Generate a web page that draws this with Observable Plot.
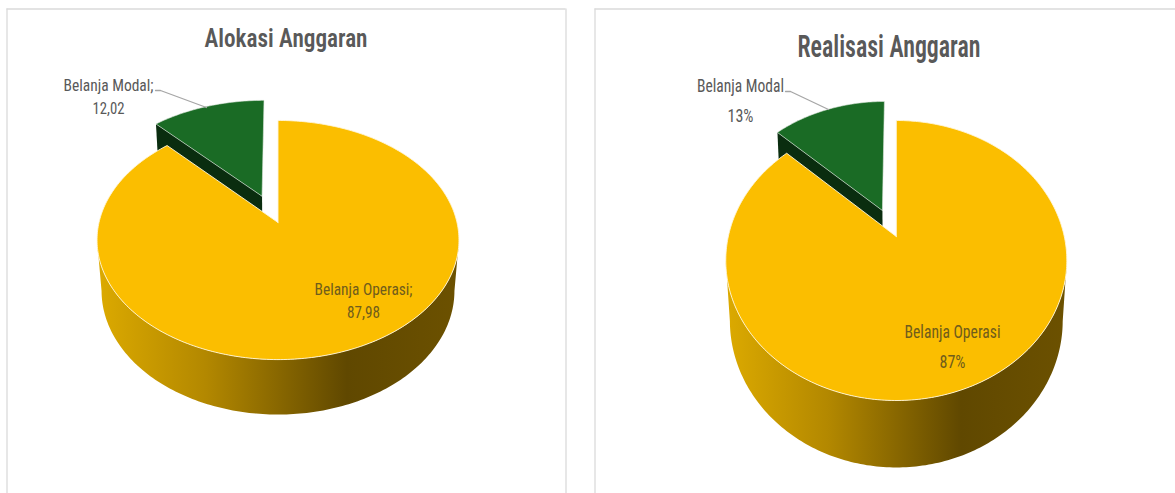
<!DOCTYPE html>
<html>
<head>
<meta charset="utf-8">
<script src="https://cdn.jsdelivr.net/npm/d3@7"></script>
<script src="https://cdn.jsdelivr.net/npm/@observablehq/plot@0.6"></script>
<style>
html,body{margin:0;padding:0;background:#fff;overflow:hidden}
svg{display:block}
</style>
</head>
<body>
<div id="chart"></div>
<script>
// ---- data ----
const categories = ["Belanja Operasi", "Belanja Modal"];
const alokasiValues = [87.98, 12.02];
const realisasiValues = [87, 13];
const alokasiLabels = ["87,98", "12,02"];
const realisasiLabels = ["87%", "13%"];
const chartTitles = ["Alokasi Anggaran", "Realisasi Anggaran"];

// ---- layout of the two perspective pies (page pixels) ----
const W = 1175, H = 493;
const FONT = "'Liberation Sans Narrow','Roboto Condensed',Roboto,sans-serif";
const panels = [
  {id:"a", values:alokasiValues, labels:alokasiLabels, sep:";", title:chartTitles[0],
   frameL:6.5, frameR:565.5, frameT:8.5,
   cx:277.5, cy:222, rx:179, ry:117, k:0.1465, m:0.025, D:51.7, explode:0.25,
   titleX:285.5, titleY:38, titleSize:25, titleW:163,
   modal:{tx:108, y1:85, y2:108, w1:90, w2:32, leader:[[155,90],[160,90],[206,107]], size:17},
   oper:{x:363, y1:289, y2:312, w1:98, w2:33, size:17}},
  {id:"b", values:realisasiValues, labels:realisasiLabels, sep:"", title:chartTitles[1],
   frameL:594.5, frameR:1190, frameT:8.5,
   cx:895.8, cy:236, rx:168, ry:135.9, k:0.1714, m:0.024, D:61, explode:0.215,
   titleX:888.5, titleY:47, titleSize:31, titleW:183,
   modal:{tx:740, y1:85, y2:115, w1:87, w2:26, leader:[[785,91],[790,91],[828,109]], size:19},
   oper:{x:952, y1:331, y2:361, w1:96, w2:26, size:19}}
];

const YELLOW = "#fbbe00", GREEN = "#1a6b25", DARKGREEN = "#0a2d0f";
const TEXT = "#595959", TEXT_ON = "#6f5c1c";

function buildMarks(p) {
  const total = d3.sum(p.values);
  const end = 2 * Math.PI * p.values[0] / total;
  const mid = (end + 2 * Math.PI) / 2;
  const ox = Math.sin(mid) * p.explode, oy = Math.cos(mid) * p.explode;
  // perspective projection of a disc point (u right, v back, z 0 top .. 1 bottom)
  const proj = (u, v, z = 0) => {
    const w = 1 + p.k * v + p.m * z;
    return {x: p.cx + p.rx * u / w, y: p.cy + (-p.ry * v + p.D * z) / w};
  };
  const arc = (a0, a1, z = 0, du = 0, dv = 0) => {
    const n = Math.max(2, Math.ceil(Math.abs(a1 - a0) * 60));
    return d3.range(n + 1).map(i => {
      const a = a0 + (a1 - a0) * i / n;
      return proj(Math.sin(a) + du, Math.cos(a) + dv, z);
    });
  };
  const t0 = Math.acos(-p.k);
  const wall = [...arc(t0, 2 * Math.PI - t0, 0), ...arc(2 * Math.PI - t0, t0, 1)];
  const yellowTop = [proj(0, 0), ...arc(0, end), proj(0, 0)];
  const greenTop = [proj(ox, oy), ...arc(end, 2 * Math.PI, 0, ox, oy), proj(ox, oy)];
  const rimL = proj(Math.sin(end) + ox, Math.cos(end) + oy);
  const rimLb = proj(Math.sin(end) + ox, Math.cos(end) + oy, 1);
  const apexB = proj(ox, oy, 1);
  const greenWall = [rimL, proj(ox, oy), apexB, rimLb, rimL];
  const gid = "wall-" + p.id;
  const xy = {x: "x", y: "y"};
  const txt = (s, x, y, size, fill, len, weight) => Plot.text([s], {
    x: () => x, y: () => y, text: d => d, fontSize: size, fill, fontWeight: weight || "normal",
    fontFamily: FONT, textAnchor: "middle", lineAnchor: "middle",
    render(index, scales, values, dimensions, context, next) {
      const g = next(index, scales, values, dimensions, context);
      d3.select(g).selectAll("text").attr("textLength", len).attr("lengthAdjust", "spacingAndGlyphs");
      return g;
    }
  });
  return [
    () => {
      const defs = d3.create("svg:defs");
      const g = defs.append("linearGradient").attr("id", gid)
        .attr("x1", 0).attr("x2", 1).attr("y1", 0).attr("y2", 0);
      [[0, "#dcaa00"], [0.3, "#b38800"], [0.69, "#604800"], [1, "#6c5100"]].forEach(([o, c]) =>
        g.append("stop").attr("offset", o).attr("stop-color", c));
      return defs.node();
    },
    // frame
    Plot.ruleY([p.frameT], {x1: p.frameL, x2: p.frameR, stroke: "#dadada", strokeWidth: 1.3}),
    Plot.ruleX([p.frameL], {y1: p.frameT, y2: H, stroke: "#dadada", strokeWidth: 1.3}),
    Plot.ruleX([p.frameR], {y1: p.frameT, y2: H, stroke: "#dadada", strokeWidth: 1.3}),
    // pie
    Plot.line(wall, {...xy, fill: `url(#${gid})`, stroke: "none"}),
    Plot.line(greenWall, {...xy, fill: DARKGREEN, stroke: "none"}),
    Plot.line(greenTop, {...xy, fill: GREEN, stroke: "#dfe8df", strokeWidth: 0.6}),
    Plot.line(yellowTop, {...xy, fill: YELLOW, stroke: "#fff6da", strokeWidth: 0.9}),
    // leader
    Plot.line(p.modal.leader.map(([x, y]) => ({x, y})), {...xy, stroke: "#a6a6a6", strokeWidth: 1.3}),
    // text
    txt(p.title, p.titleX, p.titleY, p.titleSize, TEXT, p.titleW, 600),
    txt(categories[1] + p.sep, p.modal.tx, p.modal.y1, p.modal.size, TEXT, p.modal.w1),
    txt(p.labels[1], p.modal.tx, p.modal.y2, p.modal.size, TEXT, p.modal.w2),
    txt(categories[0] + p.sep, p.oper.x, p.oper.y1, p.oper.size, TEXT_ON, p.oper.w1),
    txt(p.labels[0], p.oper.x, p.oper.y2, p.oper.size, TEXT_ON, p.oper.w2)
  ];
}

const plot = Plot.plot({
  width: W, height: H, margin: 0,
  x: {domain: [0, W], range: [0, W], axis: null},
  y: {domain: [0, H], range: [0, H], axis: null},
  style: {background: "#fff"},
  marks: panels.flatMap(buildMarks)
});
document.getElementById("chart").append(plot);
</script>
</body>
</html>
